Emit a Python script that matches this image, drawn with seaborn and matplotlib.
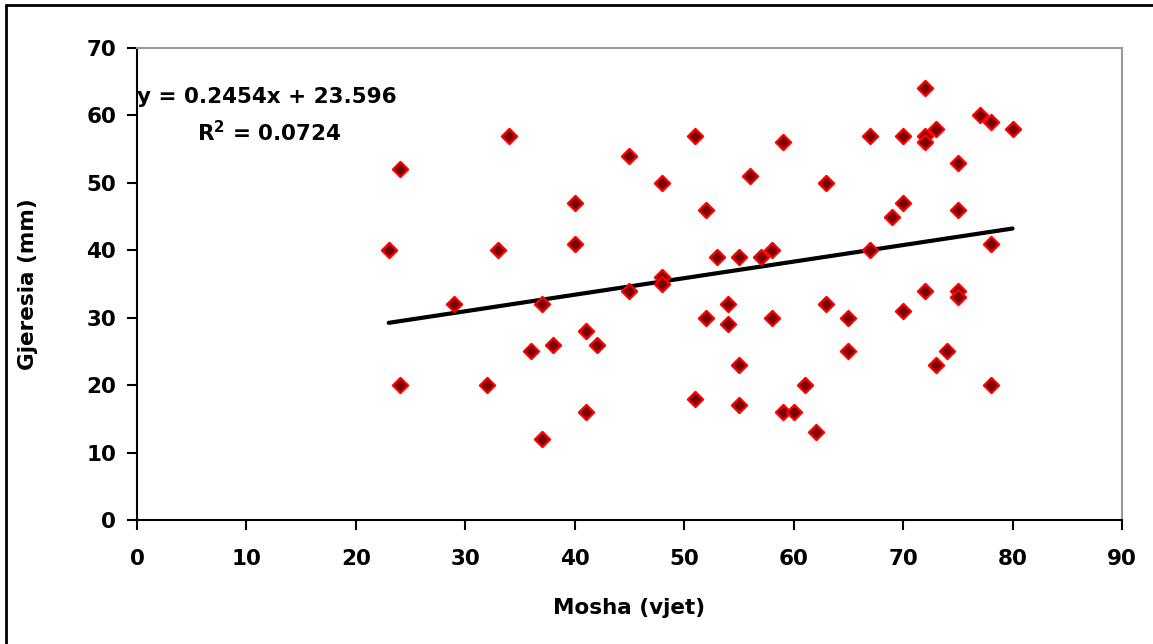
import seaborn as sns
import matplotlib.pyplot as plt
from matplotlib.lines import Line2D
import numpy as np
import pandas as pd

# age (years) and width (mm)
mosha = [23, 24, 24, 29, 32, 33, 34, 36, 37, 37, 38, 40, 40, 41, 41, 42,
         45, 45, 48, 48, 48, 51, 51, 52, 52, 53, 54, 54, 55, 55, 55, 56,
         57, 58, 58, 59, 59, 60, 61, 62, 63, 63, 65, 65, 67, 67, 69, 70,
         70, 70, 72, 72, 72, 72, 73, 73, 74, 75, 75, 75, 75, 77, 78, 78,
         78, 80]
gjeresia = [40, 52, 20, 32, 20, 40, 57, 25, 32, 12, 26, 47, 41, 28, 16, 26,
            54, 34, 50, 36, 35, 57, 18, 46, 30, 39, 32, 29, 39, 23, 17, 51,
            39, 40, 30, 56, 16, 16, 20, 13, 50, 32, 30, 25, 57, 40, 45, 57,
            47, 31, 64, 57, 56, 34, 58, 23, 25, 53, 46, 34, 33, 60, 59, 41,
            20, 58]

# trendline as printed on the chart
slope = 0.2454
intercept = 23.596
r2 = 0.0724

df = pd.DataFrame({"Mosha": mosha, "Gjeresia": gjeresia})
trend_x = np.array([min(mosha), max(mosha)])
trend = pd.DataFrame({"x": trend_x, "y": slope * trend_x + intercept})

sns.set_style("white")
plt.rcParams["font.family"] = ["DejaVu Sans"]
plt.rcParams["font.weight"] = "bold"
for key in ["text.color", "axes.labelcolor", "xtick.color", "ytick.color"]:
    plt.rcParams[key] = "black"

fig = plt.figure(figsize=(11.53, 6.44), dpi=100)
ax = fig.add_axes([0.1188, 0.1925, 0.8543, 0.733])

sns.scatterplot(data=df, x="Mosha", y="Gjeresia", marker="D", s=60,
                color="#7a0000", edgecolor="#FF0000", linewidth=1.6, ax=ax, zorder=3)
sns.lineplot(data=trend, x="x", y="y", color="black", linewidth=3, ax=ax, zorder=2)

ax.set_xlim(0, 90)
ax.set_ylim(0, 70)
ax.set_xticks(range(0, 91, 10))
ax.set_yticks(range(0, 71, 10))
ax.tick_params(axis="both", direction="out", length=7, width=1.5,
               labelsize=15.5, bottom=True, left=True, color="black")
ax.tick_params(axis="x", pad=14)
ax.tick_params(axis="y", pad=8)
for lab in ax.get_xticklabels() + ax.get_yticklabels():
    lab.set_fontweight("bold")

ax.set_xlabel("Mosha (vjet)", fontsize=15.5, fontweight="bold", labelpad=21)
ax.set_ylabel("Gjeresia (mm)", fontsize=15.5, fontweight="bold", labelpad=35)

for side in ["left", "bottom"]:
    ax.spines[side].set_color("black")
    ax.spines[side].set_linewidth(1.5)
for side in ["top", "right"]:
    ax.spines[side].set_color("#999999")
    ax.spines[side].set_linewidth(1.5)

ax.text(0.0, 62.7, "y = 0.2454x + 23.596", fontsize=15.5, fontweight="bold",
        ha="left", va="center")
ax.text(5.5, 57.4, f"R$^\\mathbf{{2}}$ = {r2}", fontsize=15.5, fontweight="bold",
        ha="left", va="center")

# outer chart frame (only top and left edges are visible)
fig.add_artist(Line2D([6 / 1153, 1.0], [1 - 5 / 644, 1 - 5 / 644],
                      transform=fig.transFigure, color="black", linewidth=2))
fig.add_artist(Line2D([6 / 1153, 6 / 1153], [0.0, 1 - 5 / 644],
                      transform=fig.transFigure, color="black", linewidth=2))

fig.savefig("out.png", dpi=100)
